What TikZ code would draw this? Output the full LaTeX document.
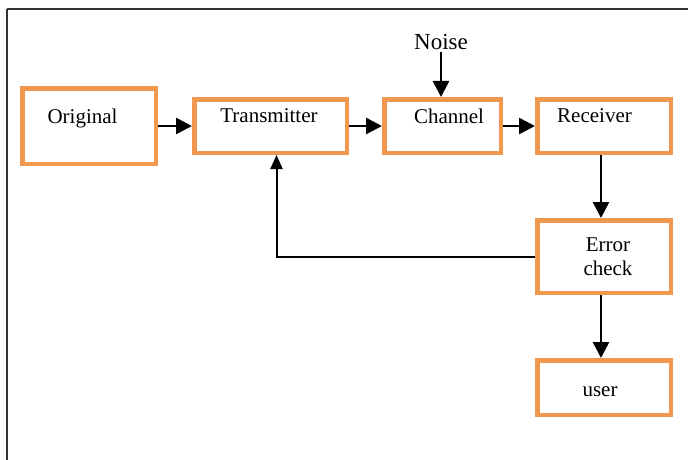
\documentclass[tikz,border=0pt]{standalone}
\usepackage{fontspec}
\setmainfont{Liberation Serif}
\usetikzlibrary{arrows.meta,positioning}
\definecolor{BoxOrange}{HTML}{F0984E}
\definecolor{FrameGray}{HTML}{333333}

\begin{document}
\begin{tikzpicture}[
  x=1pt,y=-1pt,
  blk/.style={draw=BoxOrange,line width=4.5pt,fill=white,minimum width=133.5pt,
    minimum height=53.5pt,inner sep=0pt,font=\fontsize{21}{24}\selectfont,align=center},
  arrow/.style={-{Triangle[length=16pt,width=16pt]},line width=2.6pt,color=black},
  fback/.style={-{Triangle[length=14pt,width=12pt]},line width=2pt,color=black}
]
  \useasboundingbox (0,0) rectangle (688,460);
  % frame
  \draw[FrameGray,line width=1.5pt] (6.5,9) -- (688,9);
  \draw[FrameGray,line width=1.5pt] (7,9) -- (7,460);

  % top row
  \node[blk,minimum height=75.5pt] (orig) at (89,126)
    {\raisebox{8pt}[\height][\depth]{\hspace*{-13pt}Original}};
  \node[blk,minimum width=152.5pt] (trans) at (270.5,126)
    {\raisebox{10pt}[\height][\depth]{\hspace*{-3pt}Transmitter}};
  \node[blk,minimum width=116.5pt] (chan) at (442.5,126)
    {\raisebox{10pt}[\height][\depth]{\hspace*{13pt}Channel}};
  \node[blk] (recv) at (604,126)
    {\raisebox{10pt}[\height][\depth]{\hspace*{-19pt}Receiver}};
  \node[font=\fontsize{23}{26}\selectfont,inner sep=2pt] (noise) at (441,42) {Noise};

  % right column
  \node[blk,minimum height=72.5pt] (err) at (604,256.5) {\hspace*{8pt}Error\\\hspace*{8pt}check};
  \node[blk,minimum height=54.5pt] (user) at (604,387.5)
    {\raisebox{-4pt}[\height][\depth]{\hspace*{-8pt}user}};

  \draw[arrow] (orig) -- (trans);
  \draw[arrow] (trans) -- (chan);
  \draw[arrow] (chan) -- (recv);
  \draw[arrow] (noise.south) -- (noise.south |- chan.north);
  \draw[arrow] ([xshift=-3pt]recv.south) -- ([xshift=-3pt]err.north);
  \draw[arrow] ([xshift=-3pt]err.south) -- ([xshift=-3pt]user.north);
  \draw[fback] (err.west) -| ([xshift=6pt]trans.south);
\end{tikzpicture}
\end{document}
